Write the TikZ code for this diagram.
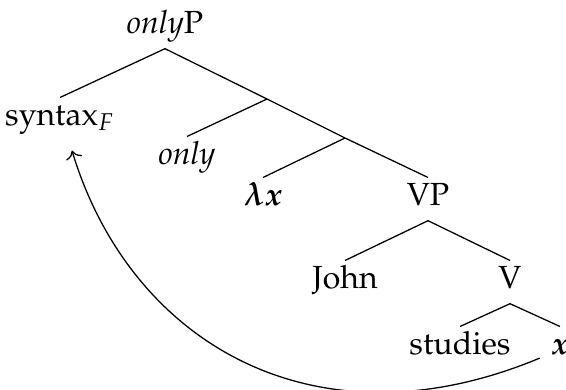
\documentclass[tikz,border=0pt]{standalone}
\usepackage{amsmath}
\usepackage[T1]{fontenc}
\usepackage{mathpazo}
\usepackage{tikz}
\usetikzlibrary{arrows.meta, calc}

\begin{document}
\begin{tikzpicture}[
    x=0.3125pt, y=-0.3125pt,
    cat/.style={inner sep=0pt, text height=8.4pt, text depth=4.7pt, anchor=base},
    branch/.style={draw=black},
    move/.style={draw=black, ->}
]
    \useasboundingbox (0,0) rectangle (566,389);

    % Tree labels
    \node[cat] (ONLYP)   at (165,33)  {\textit{only}P};
    \node[cat] (SYNTAX)  at (60,125)  {syntax$_F$};
    \node[cat] (ONLY)    at (187,164) {\textit{only}};
    \node[cat] (LAMBDA)  at (263,205) {$\boldsymbol{\lambda x}$};
    \node[cat] (VP)      at (428,205) {VP};
    \node[cat] (JOHN)    at (345,288) {John};
    \node[cat] (V)       at (510,288) {V};
    \node[cat] (STUDIES) at (460,354) {studies};
    \node[cat] (TRACE)   at (560,354) {$\boldsymbol{x}$};

    % Unlabelled branching points
    \coordinate (X1) at (267,99);
    \coordinate (X2) at (345,138);

    % Branches
    \draw[branch] (ONLYP.south) -- (SYNTAX.north);
    \draw[branch] (ONLYP.south) -- (X1);
    \draw[branch] (X1) -- (ONLY.north);
    \draw[branch] (X1) -- (X2);
    \draw[branch] (X2) -- (LAMBDA.north);
    \draw[branch] (X2) -- (VP.north);
    \draw[branch] (VP.south) -- (JOHN.north);
    \draw[branch] (VP.south) -- (V.north);
    \draw[branch] (V.south) -- (STUDIES.north);
    \draw[branch] (V.south) -- (TRACE.north);

    % Movement arrow
    \draw[move] ($(TRACE.west)+(-11,10)$) .. controls +(-225,94) and +(58,192) .. ($(SYNTAX.south)+(12,10)$);
\end{tikzpicture}
\end{document}
